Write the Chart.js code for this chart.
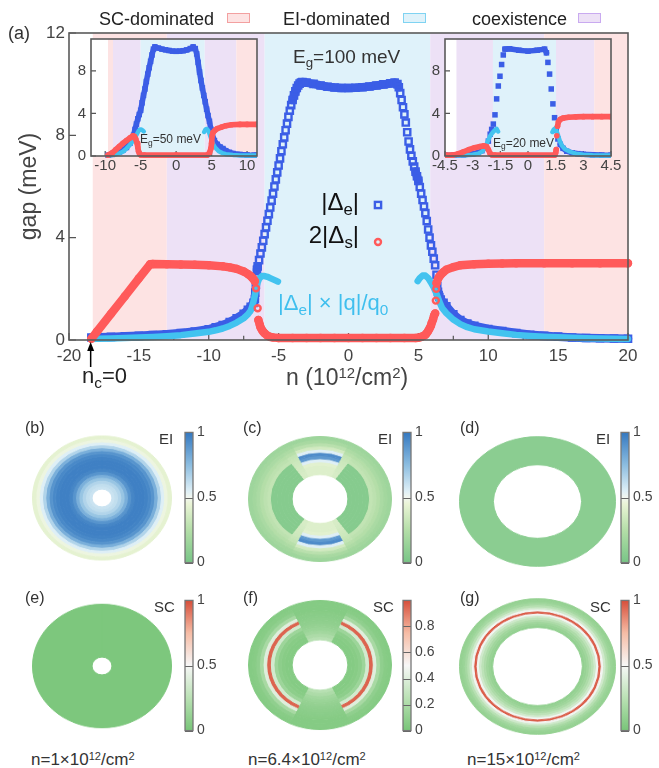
<!DOCTYPE html>
<html><head><meta charset="utf-8">
<script src="https://cdn.jsdelivr.net/npm/chart.js"></script>
<style>
html,body{margin:0;padding:0;background:#fff}
body{width:659px;height:768px;position:relative;overflow:hidden;font-family:"Liberation Sans",Arial,Helvetica,sans-serif;color:#222}
canvas{position:absolute}
.t{position:absolute;white-space:nowrap;line-height:1}
.sub{position:relative;top:0.3em;font-size:0.7em}
.sup{position:relative;top:-0.45em;font-size:0.65em}
.sw{position:absolute;width:23px;height:10px;box-sizing:border-box;border:1.5px solid}
</style></head><body>
<canvas id="main" width="659" height="400" style="left:0;top:0"></canvas>
<canvas id="insA" width="215" height="160" style="left:50px;top:25px"></canvas>
<canvas id="insB" width="230" height="160" style="left:400px;top:25px"></canvas>

<canvas id="rb" width="140" height="140" style="left:32px;top:427.5px;transform:scaleY(0.893)"></canvas>
<canvas id="rc" width="144" height="144" style="left:248px;top:427px;transform:scaleY(0.875)"></canvas>
<canvas id="rd" width="157" height="157" style="left:459px;top:422.8px;transform:scaleY(0.832)"></canvas>
<canvas id="re" width="140" height="140" style="left:32px;top:595.5px;transform:scaleY(0.889)"></canvas>
<canvas id="rf" width="144" height="144" style="left:248px;top:593px;transform:scaleY(0.903)"></canvas>
<canvas id="rg" width="157" height="157" style="left:459px;top:588.2px;transform:scaleY(0.87)"></canvas>

<canvas id="cbB" width="45" height="155" style="left:180px;top:420px"></canvas>
<canvas id="cbC" width="45" height="155" style="left:398px;top:420px"></canvas>
<canvas id="cbD" width="43" height="155" style="left:616px;top:420px"></canvas>
<canvas id="cbE" width="45" height="155" style="left:180px;top:588px"></canvas>
<canvas id="cbF" width="45" height="155" style="left:398px;top:588px"></canvas>
<canvas id="cbG" width="43" height="155" style="left:616px;top:588px"></canvas>

<div class="t" style="left:8px;top:24px;font-size:18px;color:#333">(a)</div>
<div class="t" style="left:99px;top:10px;font-size:18px">SC-dominated</div>
<div class="sw" style="left:227px;top:12.5px;background:#fde3e3;border-color:#f3a0a0"></div>
<div class="t" style="left:283px;top:10px;font-size:18px">EI-dominated</div>
<div class="sw" style="left:403px;top:12.5px;background:#dff2fa;border-color:#7fd3f2"></div>
<div class="t" style="left:472px;top:10px;font-size:18px">coexistence</div>
<div class="sw" style="left:578px;top:12.5px;background:#ede1f6;border-color:#c9aaf0"></div>

<div class="t" style="left:-72px;top:175px;width:200px;text-align:center;font-size:23px;color:#444;transform:rotate(-90deg)">gap (meV)</div>
<div class="t" style="left:286px;top:366px;font-size:23px;color:#444">n (10<span class="sup">12</span>/cm<span class="sup">2</span>)</div>
<div class="t" style="left:82px;top:365px;font-size:22px;color:#222">n<span class="sub">c</span>=0</div>
<div class="t" style="left:293px;top:47px;font-size:19px;color:#333">E<span class="sub">g</span>=100 meV</div>
<div class="t" style="right:300px;top:190px;font-size:24px;color:#111">|Δ<span class="sub">e</span>|</div>
<div class="t" style="right:300px;top:223px;font-size:24px;color:#111">2|Δ<span class="sub">s</span>|</div>
<div class="t" style="left:278px;top:292px;font-size:22px;color:#3fbfee">|Δ<span class="sub">e</span>| × |q|/q<span class="sub">0</span></div>
<div class="t" style="left:140px;top:133px;font-size:12px;color:#333">E<span class="sub">g</span>=50 meV</div>
<div class="t" style="left:493px;top:136.5px;font-size:12px;color:#333">E<span class="sub">g</span>=20 meV</div>

<div class="t" style="left:25px;top:420px;font-size:16px;color:#333">(b)</div>
<div class="t" style="left:243px;top:420px;font-size:16px;color:#333">(c)</div>
<div class="t" style="left:460px;top:420px;font-size:16px;color:#333">(d)</div>
<div class="t" style="left:25px;top:589.5px;font-size:16px;color:#333">(e)</div>
<div class="t" style="left:243px;top:589.5px;font-size:16px;color:#333">(f)</div>
<div class="t" style="left:460px;top:589.5px;font-size:16px;color:#333">(g)</div>
<div class="t" style="left:159px;top:430.5px;font-size:15px;color:#333">EI</div>
<div class="t" style="left:378px;top:430.5px;font-size:15px;color:#333">EI</div>
<div class="t" style="left:596px;top:430.5px;font-size:15px;color:#333">EI</div>
<div class="t" style="left:154px;top:599px;font-size:15px;color:#333">SC</div>
<div class="t" style="left:373px;top:599px;font-size:15px;color:#333">SC</div>
<div class="t" style="left:590px;top:599px;font-size:15px;color:#333">SC</div>
<div class="t" style="left:31px;top:751px;font-size:17px;color:#333">n=1×10<span class="sup">12</span>/cm<span class="sup">2</span></div>
<div class="t" style="left:248px;top:751px;font-size:17px;color:#333">n=6.4×10<span class="sup">12</span>/cm<span class="sup">2</span></div>
<div class="t" style="left:467px;top:751px;font-size:17px;color:#333">n=15×10<span class="sup">12</span>/cm<span class="sup">2</span></div>

<script>
// ---------------- DATA ----------------
// main panel (a), Eg = 100 meV
const mainXTicks = [-20,-15,-10,-5,0,5,10,15,20];
const mainXMinor = [-17.5,-12.5,-7.5,-2.5,2.5,7.5,12.5,17.5];
const mainYTicks = [0,4,8,12];
const mainBandEdges = [-18.3,-13,-6,5.85,14,20];
const mainBandKinds = ['SC','CO','EI','CO','SC'];
const ncArrowAt = -18.45;

const nE = [-18.4,-18,-17,-16,-15,-14,-13,-12,-11,-10,
  -9.5,-9,-8.5,-8,-7.5,-7.2,-7,-6.8,-6.7,-6.67,
  -6.63,-6.6,-6.55,-6.5,-6.4,-6.3,-6.2,-6.1,-6,-5.9,
  -5.8,-5.7,-5.6,-5.5,-5.4,-5.3,-5.2,-5.1,-5,-4.9,
  -4.8,-4.7,-4.6,-4.5,-4.4,-4.3,-4.2,-4.1,-4,-3.9,
  -3.8,-3.7,-3.6,-3.5,-3.4,-3.3,-3,-2.5,-2,-1.5,
  -1,-0.5,0,0.5,1,1.5,2,2.5,3,3.3,
  3.5,3.6,3.7,3.8,3.9,4,4.1,4.2,4.3,4.4,
  4.5,4.6,4.7,4.8,4.9,5,5.1,5.2,5.3,5.4,
  5.5,5.6,5.7,5.8,5.9,6,6.1,6.2,6.3,6.35,
  6.4,6.45,6.5,6.6,6.8,7,7.5,8,8.5,9,
  10,11,12,13,14,15,16,17,18,19,
  20];
const gapE = [0.1,0.11,0.12,0.14,0.16,0.19,0.22,0.27,0.33,0.42,
  0.5,0.58,0.7,0.85,1.02,1.18,1.3,1.45,1.6,1.85,
  2.15,2.45,2.74,2.88,3.12,3.38,3.62,3.88,4.14,4.4,
  4.66,4.92,5.18,5.45,5.72,6.0,6.28,6.55,6.82,7.1,
  7.38,7.65,7.92,8.2,8.46,8.72,8.96,9.18,9.38,9.56,
  9.72,9.85,9.95,10.02,10.06,10.08,10.06,10.01,9.95,9.9,
  9.87,9.85,9.85,9.86,9.88,9.91,9.95,9.99,10.03,10.06,
  10.0,9.88,9.65,9.38,9.1,8.82,8.5,8.12,7.76,7.45,
  7.2,6.98,6.78,6.58,6.4,6.22,5.98,5.72,5.47,5.22,
  4.96,4.65,4.32,4.0,3.7,3.45,3.18,2.92,2.55,2.1,
  1.88,1.76,1.68,1.58,1.45,1.32,1.0,0.78,0.64,0.55,
  0.43,0.35,0.27,0.2,0.16,0.13,0.1,0.08,0.07,0.06,
  0.05];

const nS = [-18.4,-18,-17,-16,-15,-14.2,-14,-13,-12,-11,
  -10,-9,-8.5,-8,-7.5,-7.2,-7,-6.9,-6.8,-6.7,
  -6.62,-6.5,-6.45,-6.35,-6.3,-6.2,-6.1,-6,-5.8,-5.6,
  -5.4,-5,-4,-3,-2,-1,0,1,2,3,
  4,4.8,5,5.2,5.4,5.5,5.6,5.7,5.8,5.9,
  5.95,6.05,6.12,6.2,6.25,6.28,6.3,6.4,6.5,6.6,
  6.8,7,7.5,8,9,10,11,12,14,16,
  18,20];
const gapS = [0.05,0.33,1.02,1.71,2.41,2.96,2.97,2.96,2.95,2.94,
  2.92,2.88,2.84,2.78,2.68,2.58,2.5,2.44,2.38,2.3,
  2.02,1.24,0.78,0.6,0.5,0.4,0.32,0.26,0.17,0.12,
  0.1,0.08,0.08,0.08,0.08,0.08,0.08,0.08,0.08,0.08,
  0.08,0.08,0.09,0.12,0.17,0.2,0.27,0.35,0.45,0.56,
  0.66,0.8,0.95,1.04,1.54,2.0,2.22,2.38,2.48,2.55,
  2.66,2.75,2.85,2.92,2.96,2.98,2.99,3.0,3.0,3.0,
  3.0,3.0];

const nQ = [-18.4,-18,-17,-16,-15,-14,-13,-12,-11,-10,
  -9.5,-9,-8.5,-8,-7.5,-7.2,-7,-6.9,-6.8,-6.7,
  -6.6,-6.5,-6.4,-6.3,-6.2,-6,-5.8,-5.6,-5.4,-5.2,
  -5.05,0,4.95,5.1,5.3,5.5,5.7,5.9,6.1,6.3,
  6.5,6.7,7,7.5,8,8.5,9,10,11,12,
  13,14,15,16,17,18,19,20];
const gapQ = [0.04,0.05,0.06,0.08,0.1,0.12,0.15,0.19,0.25,0.32,
  0.38,0.45,0.55,0.68,0.85,1.0,1.15,1.3,1.5,1.75,
  2.05,2.25,2.38,2.45,2.5,2.5,2.47,2.42,2.37,2.32,
  2.28,null,2.3,2.42,2.52,2.52,2.42,2.25,2.05,1.8,
  1.5,1.25,1.05,0.8,0.62,0.5,0.42,0.33,0.26,0.2,
  0.16,0.13,0.11,0.09,0.07,0.06,0.05,0.04];

// inset: Eg = 50 meV
const insAXTicks = [-10,-5,0,5,10];
const insYTicks = [0,4,8];
const insABandEdges = [-9.6,-8.9,-5.0,4.03,8.48,11.4];
const insABandKinds = ['SC','CO','EI','CO','SC'];
const nAe = [-9.6,-9,-8,-7.5,-7,-6.5,-6,-5.8,-5.6,-5.4,
  -5.2,-5,-4.8,-4.6,-4.4,-4.2,-4,-3.8,-3.6,-3.4,
  -3.2,-3,-2.5,-2,-1.5,-1,-0.5,0,0.5,1,
  1.5,2,2.4,2.7,2.9,3.1,3.3,3.5,3.7,3.9,
  4.1,4.3,4.5,4.7,4.9,5.1,5.4,5.8,6.2,6.6,
  7,7.5,8,9,10,11,11.4];
const gapAe = [0.08,0.15,0.38,0.55,0.8,1.2,1.95,2.5,3.0,3.5,
  3.9,4.3,5.0,5.7,6.3,7.0,7.7,8.3,8.9,9.5,
  10.05,10.26,10.15,10.05,9.98,9.92,9.86,9.84,9.86,9.9,
  9.97,10.1,10.26,10.1,9.6,8.8,7.9,7.1,6.4,5.7,
  5.1,4.4,3.8,3.26,2.5,2.0,1.45,1.1,0.85,0.7,
  0.5,0.35,0.24,0.15,0.1,0.08,0.08];
const nAs = [-9.6,-9,-8.5,-8,-7.5,-7,-6.5,-6.1,-5.9,-5.7,
  -5.5,-5.4,-5.3,-5.15,-5,-4.5,0,4.4,4.7,4.9,
  5,5.07,5.2,5.45,5.8,6.4,7,7.8,9,10,
  11.4];
const gapAs = [0.08,0.3,0.6,0.9,1.2,1.45,1.7,1.9,1.85,1.6,
  1.2,0.8,0.45,0.2,0.1,0.08,0.08,0.08,0.3,0.7,
  1.2,1.9,2.2,2.4,2.58,2.72,2.85,2.94,2.97,2.97,
  2.97];
const nAq = [-9.6,-9,-8.5,-8,-7.5,-7,-6.5,-6,-5.7,-5.5,
  -5.3,-5.1,-4.9,-4.7,-4.55,0,3.95,4.15,4.35,4.55,
  4.75,5,5.2,5.5,6,6.5,7,8,9,10,
  11.4];
const gapAq = [0.04,0.08,0.15,0.25,0.4,0.7,1.05,1.5,1.85,2.1,
  2.35,2.5,2.5,2.4,2.3,null,2.25,2.5,2.55,2.35,
  2.0,1.5,1.15,0.8,0.45,0.28,0.17,0.1,0.06,0.05,
  0.04];

// inset: Eg = 20 meV
const insBXTicks = [-4.5,-3,-1.5,0,1.5,3,4.5];
const insBBandEdges = [-3.88,-1.9,1.52,3.59,4.5];
const insBBandKinds = ['CO','EI','CO','SC'];
const nBe = [-4.5,-4,-3.5,-3,-2.7,-2.5,-2.3,-2.15,-2.05,-1.97,
  -1.88,-1.79,-1.7,-1.61,-1.52,-1.43,-1.34,-1.25,-1,-0.5,
  0,0.5,0.9,1,1.08,1.17,1.26,1.35,1.44,1.53,
  1.62,1.75,1.9,2.1,2.4,2.7,3,3.5,4,4.5];
const gapBe = [0.08,0.09,0.12,0.2,0.32,0.5,0.85,1.4,2.05,2.5,
  3.0,3.87,5.37,6.58,7.5,8.6,9.5,10.05,10.08,9.95,
  9.86,9.95,10.05,9.7,8.8,7.7,6.3,4.9,3.6,2.4,
  1.6,1.1,0.72,0.45,0.3,0.22,0.16,0.12,0.09,0.08];
const nBs = [-4.5,-4.1,-3.8,-3.5,-3.2,-2.9,-2.6,-2.4,-2.25,-2.15,
  -2.06,-1.95,-1.8,0,1.45,1.5,1.53,1.56,1.6,1.65,
  1.75,1.9,2.2,2.6,3,3.5,4,4.5];
const gapBs = [0.08,0.08,0.2,0.4,0.6,0.78,0.9,0.95,0.9,0.6,
  0.25,0.1,0.08,0.08,0.08,0.3,0.6,1.9,2.8,3.2,
  3.45,3.56,3.64,3.68,3.7,3.7,3.7,3.7];
const nBq = [-4.5,-3.5,-3,-2.7,-2.5,-2.35,-2.2,-2.05,-1.9,-1.78,
  -1.7,-1.62,0,1.32,1.4,1.47,1.56,1.64,1.73,1.83,
  2,2.28,2.6,3,3.5,4,4.5];
const gapBq = [0.04,0.06,0.12,0.22,0.4,0.7,1.3,1.9,2.25,2.45,
  2.55,2.3,null,2.25,2.5,2.6,2.3,1.9,1.4,1.0,
  0.65,0.4,0.22,0.12,0.07,0.05,0.04];

// ring maps (b)-(g): radial profiles (inner -> outer), sector widths in degrees
const bProfile = [0.6,0.62,0.66,0.72,0.8,0.9,0.95,0.97,0.97,0.97,0.96,0.94,0.9,0.8,0.66,0.55,0.47,0.43];
const cSectorDeg = [50,10,110,10,50,10,110,10];
const cSectorKind = ['top','mid','side','mid','top','mid','side','mid'];
const cTop  = [0.4,0.4,0.4,0.42,0.55,0.88,0.93,0.55,0.36,0.27,0.2,0.16];
const cMid  = [0.38,0.38,0.37,0.36,0.35,0.34,0.32,0.3,0.26,0.22,0.18,0.16];
const cSide = [0.06,0.06,0.06,0.06,0.06,0.06,0.3,0.28,0.25,0.21,0.18,0.16];
const dProfile = [0.08];
const eProfile = [0.02];
const fSectorDeg = [50,130,50,130];
const fSectorKind = ['top','side','top','side'];
const fTop  = [0.24,0.2,0.16,0.13,0.11,0.09,0.08,0.07,0.06,0.05,0.05,0.05];
const fSide = [0.05,0.05,0.06,0.08,0.14,0.35,0.95,0.4,0.18,0.09,0.06,0.05];
const gProfile = [0.1,0.12,0.15,0.2,0.26,0.34,0.48,0.97,0.48,0.34,0.24,0.17,0.13,0.11];
const cbRange = [0,1];
const cbTicksHalf = [0,0.5,1];
const cbTicksF = [0,0.2,0.4,0.6,0.8];

// ---------------- STYLE / HELPERS ----------------
const FF = '"Liberation Sans", Arial, Helvetica, sans-serif';
Chart.defaults.font.family = FF;
const BAND = {SC:'#fde3e3', CO:'#ede1f6', EI:'#dff2fa'};
const BLUE = '#3b5ee6', RED = '#ff5a5a', CYAN = '#42c3ef';
const EI_STOPS = [[0,[120,197,134]],[0.25,[180,222,168]],[0.45,[234,244,214]],[0.5,[242,247,240]],[0.55,[222,239,246]],[0.75,[140,189,224]],[1,[52,120,192]]];
const SC_STOPS = [[0,[120,197,120]],[0.25,[186,225,180]],[0.5,[247,247,247]],[0.75,[246,188,165]],[1,[214,78,58]]];

function makeCmap(stops){
  return v => {
    v = Math.max(0, Math.min(1, v));
    for (let i = 1; i < stops.length; i++) {
      if (v <= stops[i][0]) {
        const [a, ca] = stops[i-1], [b, cb] = stops[i];
        const t = (v - a) / (b - a);
        return 'rgb(' + ca.map((c, j) => Math.round(c + (cb[j] - c) * t)).join(',') + ')';
      }
    }
    return 'rgb(' + stops[stops.length-1][1].join(',') + ')';
  };
}
const eiColor = makeCmap(EI_STOPS), scColor = makeCmap(SC_STOPS);

function xy(xs, ys){ return xs.map((x, i) => ({x, y: ys[i]})); }
function skipSteep(color, minLen){
  return ctx => {
    const dx = ctx.p1.x - ctx.p0.x, dy = ctx.p1.y - ctx.p0.y;
    return (Math.abs(dy) > 2 * Math.abs(dx) && Math.hypot(dx, dy) > minLen) ? 'rgba(0,0,0,0)' : color;
  };
}
function setTicks(vals){ return s => { s.ticks = vals.map(v => ({value: v})); }; }

function makeFrame(cfg){
  return {
    id: 'frame',
    beforeDatasetsDraw(chart){
      const {ctx, chartArea: a, scales: {x, y}} = chart;
      ctx.save();
      if (cfg.fillWhite) { ctx.fillStyle = '#fff'; ctx.fillRect(a.left, a.top, a.width, a.height); }
      for (let i = 0; i < cfg.kinds.length; i++) {
        const x0 = x.getPixelForValue(cfg.edges[i]), x1 = x.getPixelForValue(cfg.edges[i+1]);
        ctx.fillStyle = BAND[cfg.kinds[i]];
        ctx.fillRect(x0, a.top, x1 - x0, a.height);
      }
      ctx.strokeStyle = '#555'; ctx.lineWidth = 1.2; ctx.beginPath();
      cfg.xTicks.forEach(v => { const p = x.getPixelForValue(v); ctx.moveTo(p, a.bottom); ctx.lineTo(p, a.bottom - cfg.tickLen); });
      (cfg.xMinor || []).forEach(v => { const p = x.getPixelForValue(v); ctx.moveTo(p, a.bottom); ctx.lineTo(p, a.bottom - cfg.tickLen * 0.6); });
      cfg.yTicks.forEach(v => { const p = y.getPixelForValue(v); ctx.moveTo(a.left, p); ctx.lineTo(a.left + cfg.tickLen, p); });
      ctx.stroke();
      ctx.restore();
    },
    afterDatasetsDraw(chart){
      const {ctx, chartArea: a} = chart;
      ctx.save(); ctx.strokeStyle = '#5a5a5a'; ctx.lineWidth = 1.6;
      ctx.strokeRect(a.left, a.top, a.width, a.height); ctx.restore();
    }
  };
}

function series(xs, ys, o){
  const color = o.color;
  return Object.assign({
    data: xy(xs, ys), showLine: true, tension: 0,
    borderColor: color, borderCapStyle: 'round', borderJoinStyle: 'round',
    segment: {borderColor: o.skip ? skipSteep(color, o.skip) : color},
    pointBorderColor: color
  }, o.extra);
}

function axisOpts(min, max, ticks, size, pad, fit){
  return {type: 'linear', min, max, afterBuildTicks: setTicks(ticks),
    grid: {display: false, drawTicks: false}, border: {display: false},
    ticks: {color: '#444', font: {size, family: FF}, padding: pad, maxRotation: 0, autoSkip: false, callback: v => String(v)},
    afterFit: fit};
}
const baseOpts = {responsive: false, animation: false, devicePixelRatio: 1, events: [],
  plugins: {legend: {display: false}, tooltip: {enabled: false}}};

// ---------------- MAIN CHART ----------------
const mainExtras = {
  id: 'mainExtras',
  afterDatasetsDraw(chart){
    const {ctx} = chart;
    ctx.save();
    ctx.lineWidth = 2.4; ctx.strokeStyle = BLUE;
    ctx.strokeRect(378 - 3.1, 205 - 3.1, 6.2, 6.2);
    ctx.strokeStyle = RED; ctx.beginPath(); ctx.arc(378, 242, 3.0, 0, Math.PI * 2); ctx.stroke();
    const xa = chart.scales.x.getPixelForValue(ncArrowAt);
    ctx.strokeStyle = '#000'; ctx.lineWidth = 1.5;
    ctx.beginPath(); ctx.moveTo(xa, 367); ctx.lineTo(xa, 349); ctx.stroke();
    ctx.fillStyle = '#000'; ctx.beginPath(); ctx.moveTo(xa, 342); ctx.lineTo(xa - 3.5, 351); ctx.lineTo(xa + 3.5, 351); ctx.closePath(); ctx.fill();
    ctx.restore();
  }
};

new Chart(document.getElementById('main'), {
  type: 'scatter',
  data: {datasets: [
    series(nS, gapS, {color: RED, skip: 5, extra: {order: 0, borderWidth: 8.4, pointStyle: 'circle', pointRadius: 3.0, pointBorderWidth: 2.4, pointBackgroundColor: 'rgba(0,0,0,0)', clip: false}}),
    series(nQ, gapQ, {color: CYAN, extra: {order: 1, borderWidth: 6.5, pointRadius: 0, clip: false}}),
    series(nE, gapE, {color: BLUE, skip: 5, extra: {order: 2, borderWidth: 8.6, pointStyle: 'rect', pointRadius: 4.4, pointBorderWidth: 2.4, pointBackgroundColor: 'rgba(0,0,0,0)', clip: false}})
  ]},
  options: Object.assign({}, baseOpts, {
    layout: {padding: {left: 0, right: 31, top: 33, bottom: 0}},
    scales: {
      x: axisOpts(-20, 20, mainXTicks, 17, 6, s => { s.height = 60; }),
      y: axisOpts(0, 12, mainYTicks, 17, 4, s => { s.width = 69; })
    }
  }),
  plugins: [makeFrame({edges: mainBandEdges, kinds: mainBandKinds, xTicks: mainXTicks, xMinor: mainXMinor, yTicks: mainYTicks, tickLen: 7}), mainExtras]
});

// ---------------- INSETS ----------------
function inset(id, xmin, xmax, xTicks, edges, kinds, e, s, q, padRight, skip){
  new Chart(document.getElementById(id), {
    type: 'scatter',
    data: {datasets: [
      series(s[0], s[1], {color: RED, skip: skip, extra: {order: 0, borderWidth: 5.6, pointStyle: 'circle', pointRadius: 2.8, pointBorderWidth: 0, pointBackgroundColor: RED, clip: {left: 0, right: 0, top: 0, bottom: 3}}}),
      series(q[0], q[1], {color: CYAN, extra: {order: 1, borderWidth: 4.4, pointRadius: 0, clip: {left: 0, right: 0, top: 0, bottom: 3}}}),
      series(e[0], e[1], {color: BLUE, skip: skip, extra: {order: 2, borderWidth: 5.5, pointStyle: 'rect', pointRadius: 3.9, pointBorderWidth: 0, pointBackgroundColor: BLUE, clip: {left: 0, right: 0, top: 0, bottom: 3}}})
    ]},
    options: Object.assign({}, baseOpts, {
      layout: {padding: {left: 0, right: padRight, top: 10, bottom: 0}},
      scales: {
        x: axisOpts(xmin, xmax, xTicks, 15, 1, sc => { sc.height = 29; }),
        y: axisOpts(0, 11, insYTicks, 15, 5, sc => { sc.width = (id === 'insA' ? 41 : 45); })
      }
    }),
    plugins: [makeFrame({fillWhite: true, edges, kinds, xTicks, yTicks: insYTicks, tickLen: 5})]
  });
}
inset('insA', -12, 11.4, insAXTicks, insABandEdges, insABandKinds, [nAe, gapAe], [nAs, gapAs], [nAq, gapAq], 8, 0);
inset('insB', -4.5, 4.5, insBXTicks, insBBandEdges, insBBandKinds, [nBe, gapBe], [nBs, gapBs], [nBq, gapBq], 19, 5);

// ---------------- RING MAPS ----------------
function ringChart(id, hole, sectorDeg, sectorKind, profiles, cmap, rotation){
  const nR = profiles[sectorKind[0]].length;
  const datasets = [];
  for (let k = nR - 1; k >= 0; k--) {
    const cols = sectorKind.map(s => cmap(profiles[s][k]));
    datasets.push({data: sectorDeg, backgroundColor: cols, borderColor: cols, borderWidth: 1});
  }
  new Chart(document.getElementById(id), {
    type: 'doughnut',
    data: {datasets},
    options: Object.assign({}, baseOpts, {cutout: (hole * 100) + '%', rotation, layout: {padding: 0}})
  });
}
ringChart('rb', 0.143, [360], ['all'], {all: bProfile}, eiColor, 0);
ringChart('rc', 0.39, cSectorDeg, cSectorKind, {top: cTop, mid: cMid, side: cSide}, eiColor, -25);
ringChart('rd', 0.565, [360], ['all'], {all: dProfile}, eiColor, 0);
ringChart('re', 0.143, [360], ['all'], {all: eProfile}, scColor, 0);
ringChart('rf', 0.39, fSectorDeg, fSectorKind, {top: fTop, side: fSide}, scColor, -25);
ringChart('rg', 0.575, [360], ['all'], {all: gProfile}, scColor, 0);

// ---------------- COLORBARS ----------------
function colorbar(id, stops, ticks, padTop, padBottom, axisW){
  new Chart(document.getElementById(id), {
    type: 'bar',
    data: {labels: [''], datasets: [{
      data: [cbRange], barPercentage: 1, categoryPercentage: 1, borderWidth: 0,
      backgroundColor: ctx => {
        const a = ctx.chart.chartArea; if (!a) return 'rgba(0,0,0,0)';
        const g = ctx.chart.ctx.createLinearGradient(0, a.bottom, 0, a.top);
        stops.forEach(s => g.addColorStop(s[0], 'rgb(' + s[1].join(',') + ')'));
        return g;
      }
    }]},
    options: Object.assign({}, baseOpts, {
      layout: {padding: {left: 5, right: 0, top: padTop, bottom: padBottom}},
      scales: {
        x: {display: false},
        y: Object.assign(axisOpts(0, 1, ticks, 14, 4, s => { s.width = axisW; }), {position: 'right'})
      }
    }),
    plugins: [{
      id: 'cbf',
      afterDatasetsDraw(chart){
        const {ctx, chartArea: a, scales: {y}} = chart;
        ctx.save(); ctx.strokeStyle = '#666'; ctx.lineWidth = 1; ctx.beginPath();
        ticks.forEach(v => { const p = Math.round(y.getPixelForValue(v)) + 0.5; ctx.moveTo(a.left, p); ctx.lineTo(a.right, p); });
        ctx.stroke();
        ctx.strokeStyle = '#777'; ctx.lineWidth = 1.3; ctx.strokeRect(a.left, a.top, a.width, a.height);
        ctx.restore();
      }
    }]
  });
}
colorbar('cbB', EI_STOPS, cbTicksHalf, 7, 7, 32);
colorbar('cbC', EI_STOPS, cbTicksHalf, 7, 7, 32);
colorbar('cbD', EI_STOPS, cbTicksHalf, 7, 7, 30);
colorbar('cbE', SC_STOPS, cbTicksHalf, 7, 8, 32);
colorbar('cbF', SC_STOPS, cbTicksF, 7, 8, 32);
colorbar('cbG', SC_STOPS, cbTicksHalf, 7, 8, 30);
</script>
</body></html>
